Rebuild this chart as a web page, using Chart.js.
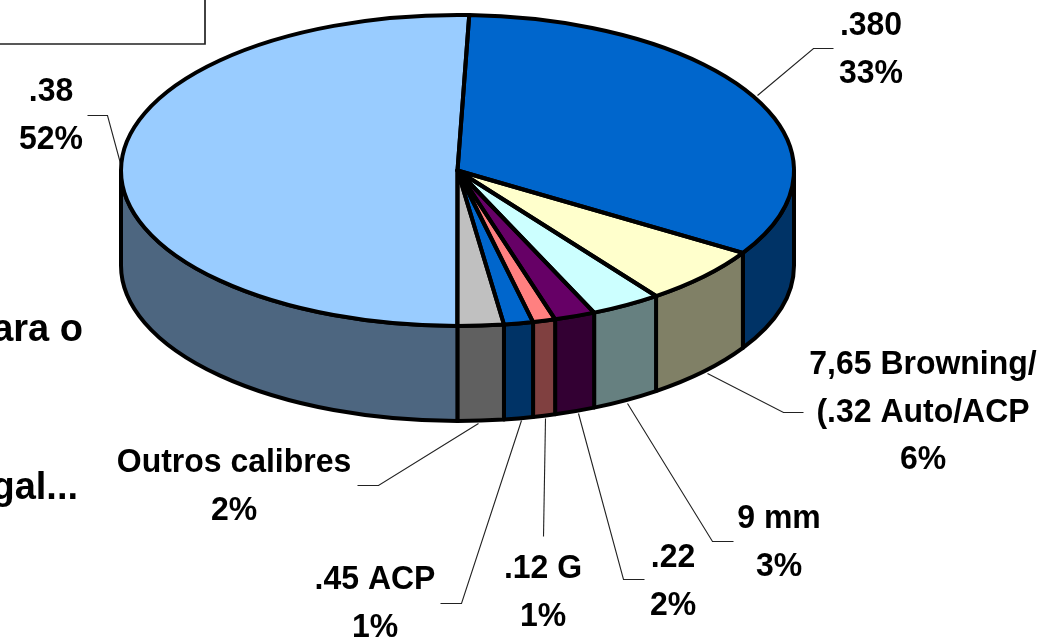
<!DOCTYPE html>
<html><head><meta charset="utf-8">
<style>html,body{margin:0;padding:0;background:#fff;overflow:hidden}#w{position:relative;width:1048px;height:640px}</style>
<script src="https://cdn.jsdelivr.net/npm/chart.js@4"></script>
</head><body><div id="w"><canvas id="c" width="1048" height="640"></canvas></div>
<script>
const categories = ['.380', '7,65 Browning/ (.32 Auto/ACP', '9 mm', '.22', '.12 G', '.45 ACP', 'Outros calibres', '.38'];
const shareOfCircle = [33.33, 6.07, 3.39, 1.97, 1.08, 1.40, 2.21, 50.55];
const topColors = ['#0066CC', '#FFFFCC', '#CCFFFF', '#660066', '#FF8080', '#0066CC', '#C0C0C0', '#99CCFF'];
const sideColors = ['#003366', '#808066', '#668080', '#330033', '#804040', '#003366', '#606060', '#4D6680'];
const labelLines = [['.380','33%'], ['7,65 Browning/','(.32 Auto/ACP','6%'], ['9 mm','3%'], ['.22','2%'], ['.12 G','1%'], ['.45 ACP','1%'], ['Outros calibres','2%'], ['.38','52%']];
const labelCentres = [[871,26],[923,365],[779,519],[673,558],[543,569],[375,580],[234,463],[51,92]];
const leaders = [
  [[757,95],[813,48],[833,48]],
  [[707,373],[783,412],[803,412]],
  [[627,403],[712,541],[733,541]],
  [[578,413],[623,579],[644,579]],
  [[545,418],[543,536]],
  [[521,420],[461,603],[440,603]],
  [[478,423],[378,485],[357,485]],
  [[120,163],[107,115],[87,115]]
];
const G = {cx:457.5, cy:170.5, rx:336.5, ry:155.5, depth:95, line:4};
const FONT = 'bold 34px "Liberation Sans", Arial, sans-serif';
const LH = 47.5;

function squeezed(ctx,t,x,y,sx){
  ctx.save(); ctx.translate(x,y); ctx.scale(sx,1);
  ctx.fillText(t,0,0); ctx.restore();
}

const pie3d = {
  id:'pie3d',
  beforeDatasetDraw(chart){
    const ctx = chart.ctx, arcs = chart.getDatasetMeta(0).data;
    ctx.save();
    ctx.strokeStyle='#222'; ctx.lineWidth=1.7;
    ctx.beginPath(); ctx.moveTo(0,44); ctx.lineTo(205,44); ctx.lineTo(205,0); ctx.stroke();
    ctx.fillStyle='#000'; ctx.font='bold 38px "Liberation Sans", Arial, sans-serif';
    ctx.textAlign='right'; ctx.textBaseline='alphabetic';
    ctx.fillText('para o',83,341);
    ctx.fillText('ilegal...',78,499);
    ctx.strokeStyle='#222'; ctx.lineWidth=1.1;
    leaders.forEach(p=>{ctx.beginPath();p.forEach((q,i)=>i?ctx.lineTo(q[0]+.5,q[1]+.5):ctx.moveTo(q[0]+.5,q[1]+.5));ctx.stroke();});
    ctx.strokeStyle='#000'; ctx.lineWidth=G.line; ctx.lineJoin='round';
    arcs.forEach((el,i)=>{
      const a0=Math.max(el.startAngle,0), a1=Math.min(el.endAngle,Math.PI);
      if(a1<=a0) return;
      ctx.beginPath();
      ctx.ellipse(G.cx,G.cy,G.rx,G.ry,0,a0,a1);
      ctx.ellipse(G.cx,G.cy+G.depth,G.rx,G.ry,0,a1,a0,true);
      ctx.closePath();
      ctx.fillStyle=sideColors[i]; ctx.fill(); ctx.stroke();
    });
    ctx.restore();
    const el=arcs[0], r=el.outerRadius;
    ctx.save();
    ctx.translate(G.cx,G.cy); ctx.scale(G.rx/r,G.ry/r); ctx.translate(-el.x,-el.y);
  },
  afterDatasetDraw(chart){
    const ctx = chart.ctx, arcs = chart.getDatasetMeta(0).data;
    ctx.restore();
    ctx.save();
    ctx.strokeStyle='#000'; ctx.lineWidth=G.line; ctx.lineJoin='round';
    arcs.forEach(el=>{
      ctx.beginPath();
      ctx.moveTo(G.cx,G.cy);
      ctx.ellipse(G.cx,G.cy,G.rx,G.ry,0,el.startAngle,el.endAngle);
      ctx.closePath(); ctx.stroke();
    });
    ctx.fillStyle='#000'; ctx.font=FONT; ctx.textAlign='center'; ctx.textBaseline='middle';
    labelLines.forEach((ls,i)=>ls.forEach((t,j)=>squeezed(ctx,t,labelCentres[i][0],labelCentres[i][1]+j*LH,0.94)));
    ctx.restore();
  }
};

new Chart(document.getElementById('c'),{
  type:'pie',
  data:{labels:categories,datasets:[{data:shareOfCircle,backgroundColor:topColors,borderWidth:0,clip:false}]},
  options:{responsive:false,animation:false,rotation:2,
    layout:{padding:0},
    plugins:{legend:{display:false},tooltip:{enabled:false},title:{display:false}}},
  plugins:[pie3d]
});
</script></body></html>
